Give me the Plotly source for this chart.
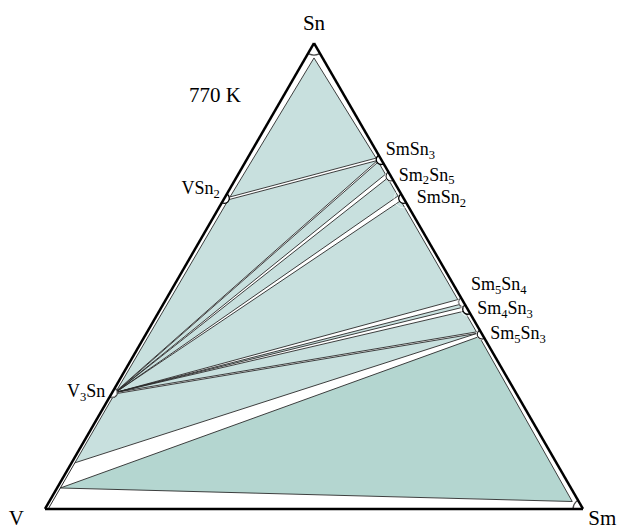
import plotly.graph_objects as go

# Binary compounds and their compositions, at.% (Sn, V, Sm)
compound_names = ["VSn2", "V3Sn", "SmSn3", "Sm2Sn5", "SmSn2", "Sm5Sn4", "Sm4Sn3", "Sm5Sn3"]
compound_sn = [66.67, 25.0, 75.0, 71.43, 66.67, 44.44, 42.86, 37.5]
compound_v = [33.33, 75.0, 0.0, 0.0, 0.0, 0.0, 0.0, 0.0]
compound_sm = [0.0, 0.0, 25.0, 28.57, 33.33, 55.56, 57.14, 62.5]

# Solubility of the third element in the binary compounds, at.%
third_element = {"VSn2": 0.9, "V3Sn": 0.6, "SmSn3": 0.8, "Sm2Sn5": 0.8, "SmSn2": 0.8,
                 "Sm5Sn4": 0.8, "Sm4Sn3": 0.8, "Sm5Sn3": 0.8}

# Terminal solid solutions, at.% (Sn, V, Sm)
terminal = {
    "Sn": (96.8, 1.6, 1.6),
    "Sm": (1.6, 1.2, 97.2),
    "(V)hi": (9.9, 89.5, 0.6),
    "(V)lo": (4.5, 94.9, 0.6),
}
v_solvus_sn = [0.0, 9.9]
v_solvus_v = [99.4, 89.5]
v_solvus_sm = [0.6, 0.6]

# Three-phase fields at 770 K: (phase, shift of the corner in at.% Sn inside its homogeneity range)
fields_upper = [
    [("Sn", 0), ("VSn2", 0.3), ("SmSn3", 0.3)],
    [("VSn2", -0.3), ("SmSn3", -0.2), ("V3Sn", 0.3)],
    [("V3Sn", 0), ("SmSn3", -0.5), ("Sm2Sn5", 0.4)],
    [("V3Sn", 0), ("Sm2Sn5", -0.4), ("SmSn2", 0.5)],
    [("V3Sn", 0), ("SmSn2", -0.5), ("Sm5Sn4", 0.5)],
    [("V3Sn", 0), ("Sm5Sn4", -0.5), ("Sm4Sn3", 0.4)],
    [("V3Sn", 0), ("Sm4Sn3", -0.4), ("Sm5Sn3", 0.5)],
    [("V3Sn", -0.3), ("Sm5Sn3", 0.2), ("(V)hi", 0)],
]
fields_lower = [
    [("(V)lo", 0), ("Sm5Sn3", -0.5), ("Sm", 0)],
]

comp = {n: (s, v, m) for n, s, v, m in zip(compound_names, compound_sn, compound_v, compound_sm)}


def corner(name, dsn):
    """Composition (Sn, V, Sm) of a phase-field corner."""
    if name in terminal:
        return terminal[name]
    s, v, m = comp[name]
    sn = s + dsn
    x = third_element[name]
    if m == 0:  # V-Sn compound, Sm dissolved
        return (sn, 100 - sn - x, x)
    return (sn, x, 100 - sn - x)  # Sm-Sn compound, V dissolved


def field_trace(fields, color):
    a, b, c = [], [], []
    for f in fields:
        pts = [corner(n, d) for n, d in f]
        pts.append(pts[0])
        for p in pts:
            a.append(p[0]); b.append(p[1]); c.append(p[2])
        a.append(None); b.append(None); c.append(None)
    return go.Scatterternary(a=a, b=b, c=c, mode="lines", fill="toself", fillcolor=color,
                             line=dict(color="#2a2a2a", width=0.9), hoverinfo="skip")


fig = go.Figure()
fig.add_trace(field_trace(fields_upper, "#c8e0de"))
fig.add_trace(field_trace(fields_lower, "#b4d6d0"))

# boundary of the (V) solid solution
fig.add_trace(go.Scatterternary(a=v_solvus_sn, b=v_solvus_v, c=v_solvus_sm, mode="lines",
                                line=dict(color="#2a2a2a", width=1), hoverinfo="skip"))

# compound points
fig.add_trace(go.Scatterternary(
    a=compound_sn, b=compound_v, c=compound_sm, mode="markers",
    marker=dict(symbol="circle", size=10, color="white", line=dict(color="black", width=1.3)),
    hoverinfo="skip"))

# pure Sn and Sm corners
fig.add_trace(go.Scatterternary(
    a=[100, 0], b=[0, 0], c=[0, 100], mode="markers",
    marker=dict(symbol="circle-open", size=[24, 20], color="black", line=dict(color="black", width=1.3)),
    hoverinfo="skip"))

# compound labels
label_text = ["VSn<sub>2</sub>\u00a0", "V<sub>3</sub>Sn", "\u00a0SmSn<sub>3</sub>", "Sm<sub>2</sub>Sn<sub>5</sub>",
              "SmSn<sub>2</sub>", "Sm<sub>5</sub>Sn<sub>4</sub>", "Sm<sub>4</sub>Sn<sub>3</sub>",
              "Sm<sub>5</sub>Sn<sub>3</sub>"]
label_pos = ["top left", "middle left", "top right", "middle right", "middle right",
             "top right", "middle right", "middle right"]
label_gap = [0, 9.6, 0, 11.2, 19.2, 10.4, 13.6, 11.2]
fig.add_trace(go.Scatterternary(
    a=compound_sn, b=compound_v, c=compound_sm, mode="markers+text",
    text=label_text, textposition=label_pos,
    textfont=dict(family="Liberation Serif", size=18, color="black"),
    marker=dict(size=label_gap, color="rgba(0,0,0,0)"),
    cliponaxis=False, hoverinfo="skip"))

# element labels at the corners
fig.add_trace(go.Scatterternary(
    a=[100, 0, 0], b=[0, 100, 0], c=[0, 0, 100], mode="markers+text",
    text=["Sn", "V\u00a0\u00a0\u00a0\u00a0", "\u00a0Sm"],
    textposition=["top center", "bottom left", "bottom right"],
    textfont=dict(family="Liberation Serif", size=21, color="black"),
    marker=dict(size=[11.2, 0, 0], color="rgba(0,0,0,0)"),
    cliponaxis=False, hoverinfo="skip"))

axis = dict(showgrid=False, showticklabels=False, ticks="", showline=True,
            linecolor="black", linewidth=2.5, title=dict(text=""))
fig.update_layout(
    width=623, height=529,
    margin=dict(l=45, r=40, t=43, b=20),
    paper_bgcolor="white",
    showlegend=False,
    ternary=dict(sum=100, bgcolor="white", aaxis=axis, baxis=axis, caxis=axis),
    annotations=[dict(text="770 K", xref="paper", yref="paper", x=0.316, y=0.888,
                      xanchor="center", yanchor="middle", showarrow=False,
                      font=dict(family="Liberation Serif", size=21, color="black"))],
)

fig.write_html("out.html")
